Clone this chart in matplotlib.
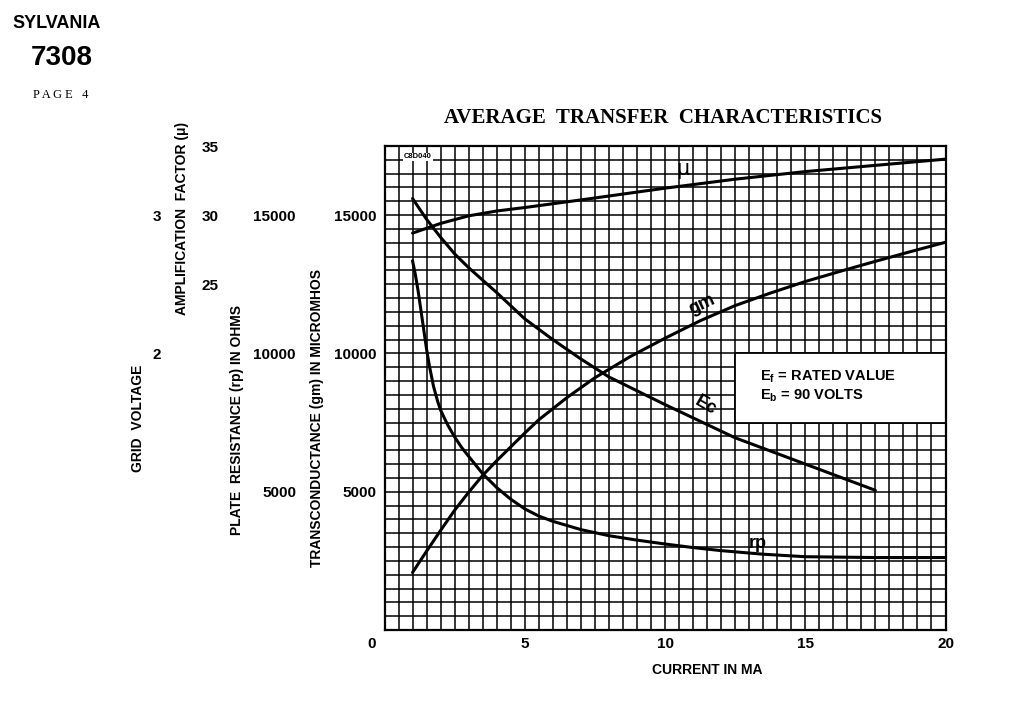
import numpy as np
import matplotlib
matplotlib.use("Agg")
import matplotlib.pyplot as plt
import matplotlib.transforms as mtrans
from matplotlib.patches import Rectangle

# ---------------- data ----------------
current_mu = [1.0, 1.5, 2.0, 3.0, 4.0, 5.0, 7.0, 10.0, 12.5, 15.0, 17.5, 20.0]
mu_values = [28.7, 29.05, 29.4, 29.95, 30.3, 30.55, 31.1, 31.95, 32.6, 33.15, 33.6, 34.05]

current_ec = [1.0, 1.5, 2.0, 2.5, 3.0, 4.0, 5.0, 6.0, 7.0, 8.0, 10.0, 12.5, 15.0, 17.5]
ec_values = [3.12, 2.97, 2.84, 2.72, 2.62, 2.44, 2.25, 2.10, 1.96, 1.83, 1.63, 1.39, 1.20, 1.01]

current_gm = [1.0, 1.5, 2.0, 2.5, 3.0, 3.5, 4.0, 4.5, 5.0, 5.5, 6.5, 7.5, 8.75, 10.0,
              11.25, 12.5, 13.75, 15.0, 16.25, 17.5, 18.75, 20.0]
gm_values = [2080, 2850, 3600, 4330, 4980, 5590, 6120, 6620, 7120, 7600, 8400, 9120,
             9880, 10550, 11180, 11730, 12180, 12600, 12970, 13330, 13680, 14020]

current_rp = [1.0, 1.1, 1.2, 1.3, 1.4, 1.5, 1.6, 1.75, 1.9, 2.0, 2.25, 2.5, 2.75, 3.0,
              3.5, 4.0, 4.5, 5.0, 5.5, 6.0, 7.0, 8.0, 9.0, 10.0, 11.0, 12.0, 13.5,
              15.0, 17.5, 20.0]
rp_values = [13350, 12850, 12250, 11550, 10850, 10150, 9550, 8800, 8250, 7950, 7420,
             6980, 6600, 6280, 5650, 5150, 4730, 4380, 4120, 3930, 3630, 3410, 3250,
             3110, 2980, 2870, 2740, 2650, 2620, 2620]

x_ticks = [0, 5, 10, 15, 20]
x_tick_labels = ["0", "5", "10", "15", "20"]
gm_ticks = [5000, 10000, 15000]
rp_ticks = [5000, 10000, 15000]
mu_ticks = [25, 30, 35]
ec_ticks = [2, 3]

legend_lines = ["E$_\\mathregular{f}$ = RATED VALUE", "E$_\\mathregular{b}$ = 90 VOLTS"]

# ---------------- styling ----------------
SANS = ["Liberation Sans", "DejaVu Sans"]
SERIF = ["Liberation Serif", "DejaVu Serif"]
plt.rcParams["font.family"] = SANS
plt.rcParams["font.weight"] = "bold"

fig = plt.figure(figsize=(10.24, 7.2), dpi=100)
W, H = 1024.0, 720.0
L, R, B, T = 384.5, 945.5, 630.0, 146.0
ax = fig.add_axes([L / W, 1 - B / H, (R - L) / W, (B - T) / H])

ax.set_xlim(0, 20)
ax.set_ylim(0, 17500)
ax.set_xticks(x_ticks)
ax.set_xticklabels(x_tick_labels)
ax.set_xticks(np.arange(0, 20.01, 0.5), minor=True)
ax.set_yticks(gm_ticks)
ax.set_yticklabels([str(v) for v in gm_ticks])
ax.set_yticks(np.arange(0, 17501, 500), minor=True)
ax.grid(which="both", color="black", linewidth=1.1)
ax.set_axisbelow(True)
ax.tick_params(which="both", length=0)
ax.tick_params(axis="x", pad=5, labelsize=11)
ax.tick_params(axis="y", pad=5.5, labelsize=11)
for s in ax.spines.values():
    s.set_linewidth(1.6)
lab0 = ax.get_xticklabels()[0]
lab0.set_transform(lab0.get_transform() + mtrans.ScaledTranslation(-13 / 100, 0, fig.dpi_scale_trans))


def make_twin(ylim, ticks, outward_px):
    t = ax.twinx()
    t.set_ylim(*ylim)
    t.yaxis.set_ticks_position("left")
    t.yaxis.set_label_position("left")
    for s in t.spines.values():
        s.set_visible(False)
    t.spines["left"].set_position(("outward", outward_px * 72 / 100))
    t.set_yticks(ticks)
    t.set_yticklabels([str(v) for v in ticks])
    t.tick_params(which="both", length=0, pad=0, labelsize=11)
    return t


ax_rp = make_twin((0, 17500), rp_ticks, L - 296)
ax_mu = make_twin((0, 35), mu_ticks, L - 219)
ax_ec = make_twin((0, 3.5), ec_ticks, L - 161)

# curves
lw = 2.2
kw = dict(color="black", lw=lw, solid_capstyle="round", solid_joinstyle="round")
ax.plot(current_gm, gm_values, **kw)
ax_rp.plot(current_rp, rp_values, **kw)
ax_mu.plot(current_mu, mu_values, **kw)
ax_ec.plot(current_ec, ec_values, **kw)

# legend box
ax.add_patch(Rectangle((12.5, 7500), 7.5, 2500, facecolor="white", edgecolor="black",
                       lw=1.3, zorder=2.5))
ax.text(13.4, 9150, legend_lines[0], fontsize=10.5, va="center", ha="left", zorder=3)
ax.text(13.4, 8480, legend_lines[1], fontsize=10.5, va="center", ha="left", zorder=3)

# curve labels
ax_mu.text(10.65, 33.35, "\u03bc", fontsize=15, ha="center", va="center",
           family=["DejaVu Sans"], weight="normal")
ax.text(11.3, 11750, "gm", fontsize=13, rotation=25, ha="center", va="center")
ax_ec.text(11.45, 1.62, "Ec", fontsize=13, rotation=-30, ha="center", va="center")
ax_rp.text(13.3, 3130, "rp", fontsize=13, ha="center", va="center")
ax.text(0.035, 0.985, "C8D040", transform=ax.transAxes, fontsize=5.5, ha="left", va="top",
        bbox=dict(facecolor="white", edgecolor="none", pad=0.5), zorder=3)


def ylab(axis, text, px, py):
    axis.set_ylabel(text, fontsize=10, va="center", ha="center", weight="bold")
    axis.yaxis.set_label_coords((px - L) / (R - L), (B - py) / (B - T))


ylab(ax, "TRANSCONDUCTANCE (gm) IN MICROMHOS", 317, 418)
ylab(ax_rp, "PLATE  RESISTANCE (rp) IN OHMS", 237, 420)
ylab(ax_mu, "AMPLIFICATION  FACTOR (\u03bc)", 182, 218)
ylab(ax_ec, "GRID  VOLTAGE", 138, 418)
ax.set_xlabel("CURRENT IN MA", fontsize=10, weight="bold")
ax.xaxis.set_label_coords((707 - L) / (R - L), (B - 663) / (B - T))

# header / title
fig.text(57 / W, 1 - 23 / H, "SYLVANIA", fontsize=13, ha="center", va="center")
fig.text(62 / W, 1 - 58 / H, "7308", fontsize=20, ha="center", va="center")
fig.text(61 / W, 1 - 95 / H, "P A G E   4", fontsize=9, ha="center", va="center",
         family=SERIF, weight="normal")
fig.text(663 / W, 1 - 118 / H, "AVERAGE  TRANSFER  CHARACTERISTICS", fontsize=15,
         ha="center", va="center", family=SERIF, weight="bold")

fig.savefig("out.png", dpi=100, facecolor="white")
